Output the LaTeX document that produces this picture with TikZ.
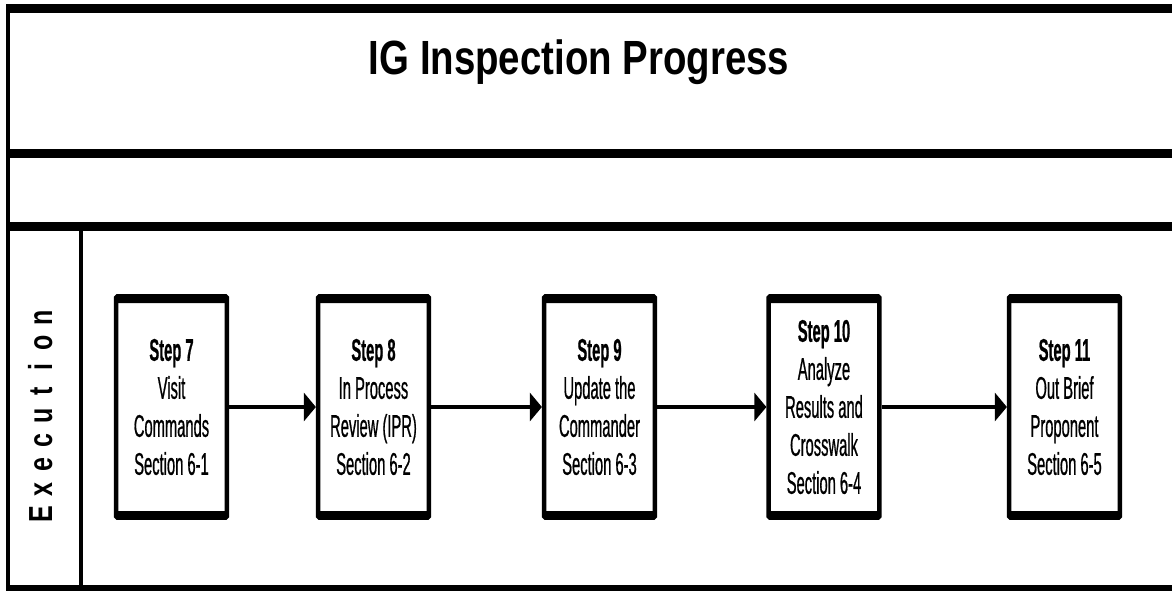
\documentclass[tikz,border=0pt]{standalone}
\usepackage{fontspec}
\setmainfont{Liberation Sans}
\newfontfamily\narrowfont[FakeStretch=0.47, FakeBold=0.6]{Liberation Sans}
\newfontfamily\titlefont[FakeStretch=0.8]{Liberation Sans}
\newfontfamily\lanefont[FakeStretch=0.75]{Liberation Sans}
\usepackage{tikz}
\usetikzlibrary{arrows.meta, positioning}

\begin{document}
\begin{tikzpicture}[
    x=0.75pt, y=-0.75pt,
    stepbox/.style={draw, line width=3.4pt, minimum width=83pt, minimum height=166pt,
        inner sep=0pt, align=center, rounded corners=1pt,
        font=\narrowfont\fontsize{23.5}{28.5}\selectfont,
        path picture={
            \fill (path picture bounding box.north west) rectangle ([yshift=-5pt]path picture bounding box.north east);
            \fill ([yshift=5pt]path picture bounding box.south west) rectangle (path picture bounding box.south east);
        }},
    flow/.style={-{Triangle[length=9pt, width=21pt]}, line width=3pt},
    frame/.style={line width=6.75pt},
    divider/.style={line width=3pt},
    title/.style={font=\titlefont\bfseries\fontsize{36}{36}\selectfont},
    lane letter/.style={rotate=90, anchor=base, inner sep=0pt,
        font=\lanefont\bfseries\fontsize{25}{25}\selectfont}
]
\useasboundingbox (0,0) rectangle (1172,590);

% Frame
\draw[divider] (8,4) -- (8,590);
\draw[frame] (6,8.5) -- (1172,8.5);
\draw[frame] (6,153.5) -- (1172,153.5);
\draw[frame] (6,226.5) -- (1172,226.5);
\draw[frame] (6,589) -- (1172,589);
\draw[divider] (81,231) -- (81,590);

\node[title] (title) at (579,62) {IG Inspection Progress};

% Lane label
\foreach \ch [count=\k] in {E,x,e,c,u,t,i,o,n}
    \node[lane letter] (lane\k) at (52, 514-24.5*\k+24.5) {\ch};

% Steps
\node[stepbox] (S7)  at (171.5,407) {\textbf{Step 7}\\Visit\\Commands\\Section 6-1};
\node[stepbox] (S8)  at (373.5,407) {\textbf{Step 8}\\In Process\\Review (IPR)\\Section 6-2};
\node[stepbox] (S9)  at (599.5,407) {\textbf{Step 9}\\Update the\\Commander\\Section 6-3};
\node[stepbox] (S10) at (824,407)   {\textbf{Step 10}\\Analyze\\Results and\\Crosswalk\\Section 6-4};
\node[stepbox] (S11) at (1064.5,407) {\textbf{Step 11}\\Out Brief\\Proponent\\Section 6-5};

\draw[flow] (S7) -- (S8);
\draw[flow] (S8) -- (S9);
\draw[flow] (S9) -- (S10);
\draw[flow] (S10) -- (S11);

\end{tikzpicture}
\end{document}
